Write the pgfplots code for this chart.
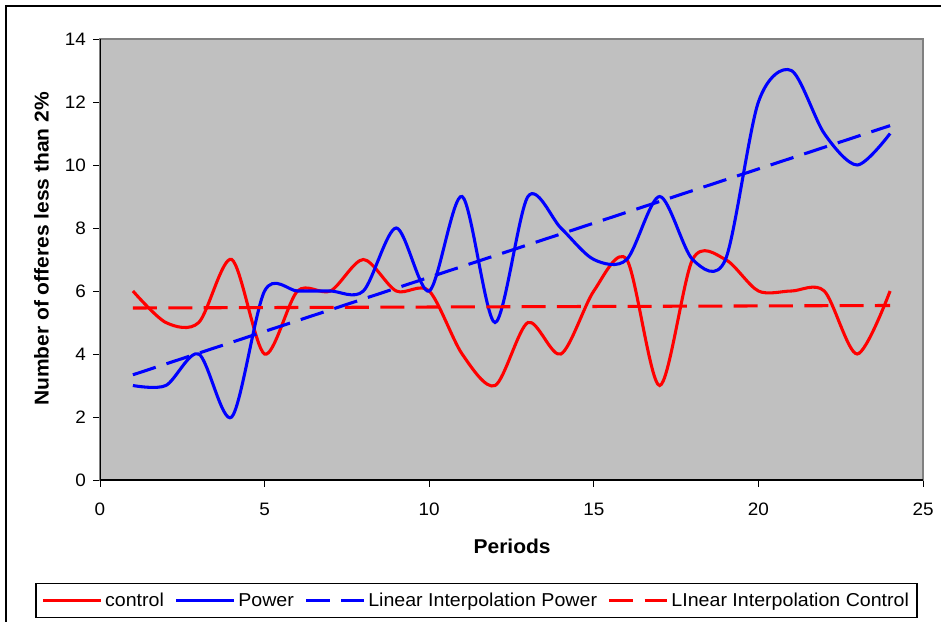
\documentclass[border=0pt]{standalone}
\usepackage{pgfplots}
\pgfplotsset{compat=1.18}
\usepackage{fontspec}
\setmainfont{Liberation Sans}[FakeStretch=1.05]
\definecolor{plotgray}{RGB}{192,192,192}
\definecolor{framegray}{RGB}{128,128,128}

\begin{document}
\begin{tikzpicture}
\useasboundingbox (-75pt,-105.75pt) rectangle (630.75pt,360pt);
\begin{axis}[
width=617.25pt,
height=330.75pt,
scale only axis,
xmin=0, xmax=25,
ymin=0, ymax=14,
xtick={0,5,...,25},
ytick={0,2,...,14},
tick align=outside,
major tick length=5pt,
tick style={black, line width=0.6pt},
tick pos=left,
axis line style={framegray, line width=0.9pt},
axis background/.style={fill=plotgray},
ticklabel style={font=\fontsize{13.5}{15}\selectfont},
xticklabel style={yshift=-9pt},
yticklabel style={xshift=-2pt},
/pgf/number format/assume math mode=true,
xlabel={\textbf{Periods}},
ylabel={\textbf{Number of offeres less than 2\%}},
xlabel style={font=\fontsize{15}{17}\selectfont, at={(axis description cs:0.5007,-0.1497)}, anchor=center},
ylabel style={font=\fontsize{15}{17}\selectfont, at={(axis description cs:-0.0711,0.524)}, anchor=center, rotate=0},
legend columns=-1,
legend style={at={(axis description cs:0.4575,-0.2336)}, anchor=north,
  draw=black, line width=0.8pt, font=\fontsize{14}{16}\selectfont,
  inner xsep=4pt, inner ysep=6pt,
  nodes={inner xsep=2pt, inner ysep=1pt},
  /tikz/every even column/.append style={column sep=6pt}},
legend cell align=left,
legend image code/.code={\draw[#1] (0pt,0pt) -- (43.5pt,0pt);},
]
% black left and bottom axis lines
\draw[black, line width=0.9pt] (axis cs:0,14) -- (axis cs:0,0) -- (axis cs:25,0);

\addplot[red, line width=2.3pt, smooth, tension=0.5]
coordinates {(1,6)(2,5)(3,5)(4,7)(5,4)(6,6)(7,6)(8,7)(9,6)(10,6)(11,4)(12,3)
(13,5)(14,4)(15,6)(16,7)(17,3)(18,7)(19,7)(20,6)(21,6)(22,6)(23,4)(24,6)};
\addlegendentry{control}

\addplot[blue, line width=2.3pt, smooth, tension=0.5]
coordinates {(1,3)(2,3)(3,4)(4,2)(5,6)(6,6)(7,6)(8,6)(9,8)(10,6)(11,9)(12,5)
(13,9)(14,8)(15,7)(16,7)(17,9)(18,7)(19,7)(20,12)(21,13)(22,11)(23,10)(24,11)};
\addlegendentry{Power}

\addplot[blue, line width=2.3pt, dash pattern=on 18pt off 8.5pt]
coordinates {(1,3.34)(24,11.25)};
\addlegendentry{Linear Interpolation Power}

\addplot[red, line width=2.3pt, dash pattern=on 18pt off 8.5pt]
coordinates {(1,5.46)(24,5.54)};
\addlegendentry{LInear Interpolation Control}
\end{axis}
\draw[black, line width=1.1pt] (-70.5pt,-110pt) -- (-70.5pt,355.5pt) -- (640pt,355.5pt);
\end{tikzpicture}
\end{document}
